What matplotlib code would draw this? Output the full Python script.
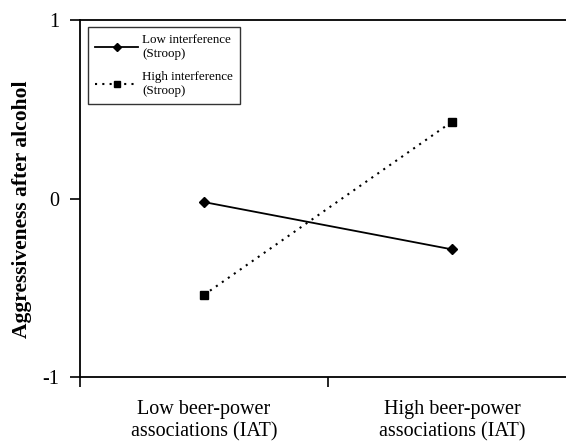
import matplotlib
matplotlib.use("Agg")
import matplotlib.pyplot as plt

categories = ["Low beer-power\nassociations (IAT)", "High beer-power\nassociations (IAT)"]
low_interference = [-0.02, -0.285]
high_interference = [-0.54, 0.43]
series_labels = ["Low interference\n(Stroop)", "High interference\n(Stroop)"]
y_ticks = [-1, 0, 1]

plt.rcParams['font.family'] = ['Liberation Serif', 'DejaVu Serif']

W, H = 566, 443
fig = plt.figure(figsize=(W/100, H/100), dpi=100)
# axes from x=80 to 576 px, y from 20 to 377 px
ax = fig.add_axes([80/W, (H-377)/H, 496/W, 357/H])

xpos = [0.5, 1.5]
ax.plot(xpos, low_interference, color='black', lw=1.3, marker='D', ms=5.5,
        label=series_labels[0])
ax.plot(xpos, high_interference, color='black', lw=1.5, ls=(0, (1, 2.5)), marker='s', ms=5.5,
        label=series_labels[1])

ax.set_xlim(0, 2)
ax.set_ylim(-1, 1)
ax.set_yticks(y_ticks)
ax.set_yticklabels([str(t) for t in y_ticks], fontsize=14.5)
ax.set_xticks([0, 1, 2])
ax.set_xticklabels([])
ax.set_xticks(xpos, minor=True)
ax.set_xticklabels(categories, minor=True, fontsize=14.5, linespacing=1.25)
ax.tick_params(axis='x', which='minor', length=0, pad=16.5)
ax.tick_params(axis='both', which='major', direction='out', length=7, width=1.2)
ax.tick_params(axis='y', pad=8)

for s in ax.spines.values():
    s.set_linewidth(1.3)
ax.spines['right'].set_visible(False)

ax.set_ylabel("Aggressiveness after alcohol", fontsize=15.5, fontweight='bold')
ax.yaxis.set_label_coords(-48/496, 0.47)

leg = ax.legend(loc='upper left', bbox_to_anchor=(8/496, 1 - 7/357), fontsize=9.4,
                frameon=True, fancybox=False, edgecolor='black', handlelength=3.3,
                borderaxespad=0, labelspacing=0.85, handletextpad=0.3, borderpad=0.55,
                markerscale=0.8)
leg.get_frame().set_linewidth(1.0)

fig.savefig("out.png", dpi=100)
